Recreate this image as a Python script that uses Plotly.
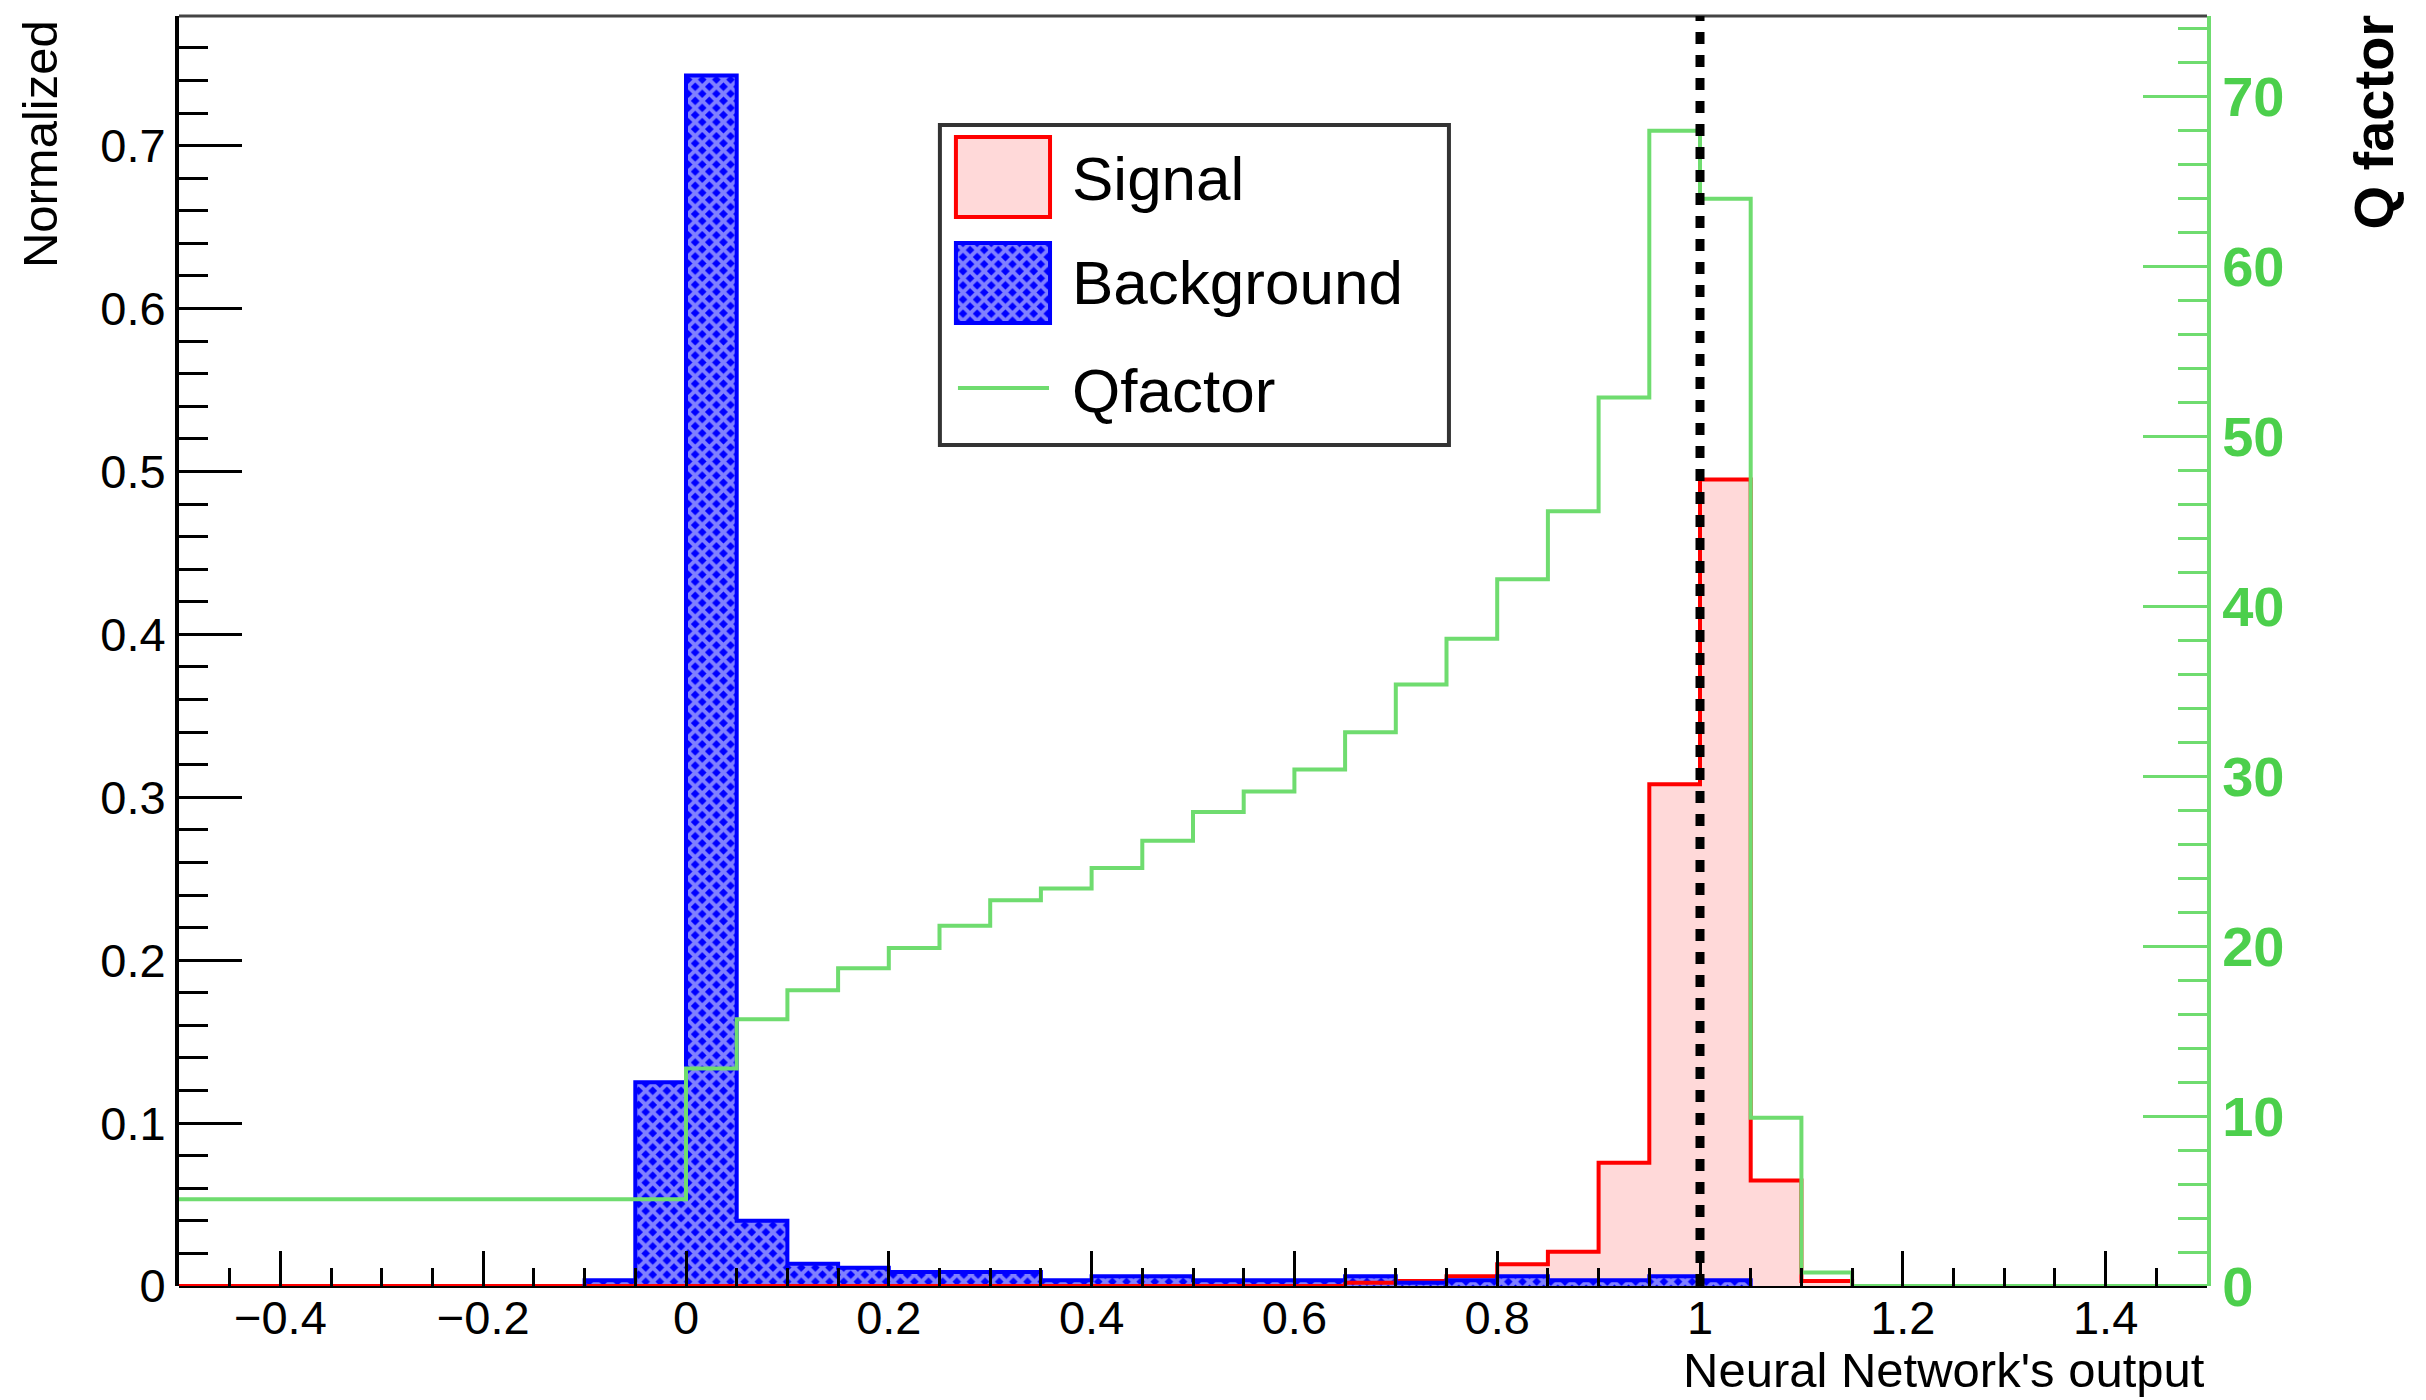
import plotly.graph_objects as go

# ---------------- data ----------------
bin_width = 0.05
# lower edges of the 40 bins (-0.5 ... 1.45)
bin_lo = [-0.50, -0.45, -0.40, -0.35, -0.30, -0.25, -0.20, -0.15, -0.10, -0.05,
          0.00, 0.05, 0.10, 0.15, 0.20, 0.25, 0.30, 0.35, 0.40, 0.45,
          0.50, 0.55, 0.60, 0.65, 0.70, 0.75, 0.80, 0.85, 0.90, 0.95,
          1.00, 1.05, 1.10, 1.15, 1.20, 1.25, 1.30, 1.35, 1.40, 1.45]

# Signal: bins -0.50 ... 1.10 (33 bins)
signal_vals = [0, 0, 0, 0, 0, 0, 0, 0, 0, 0,
               0, 0, 0, 0, 0, 0, 0, 0, 0, 0,
               0, 0, 0, 0.002, 0.003, 0.006, 0.0133, 0.021, 0.0757, 0.308,
               0.495, 0.0647, 0.003]
signal_first = 0

# Background: bins -0.10 ... 1.00 (23 bins)
background_vals = [0.0035, 0.125, 0.743, 0.040, 0.0137, 0.0112, 0.0086, 0.0086, 0.0086, 0.0035,
                   0.006, 0.006, 0.0035, 0.0035, 0.0035, 0.006, 0.002, 0.0035, 0.006, 0.0035,
                   0.0035, 0.006, 0.0035]
background_first = 8

# Q factor: all 40 bins
qfactor_vals = [5.1, 5.1, 5.1, 5.1, 5.1, 5.1, 5.1, 5.1, 5.1, 5.1,
                12.8, 15.7, 17.4, 18.7, 19.9, 21.2, 22.7, 23.4, 24.6, 26.2,
                27.9, 29.1, 30.4, 32.6, 35.4, 38.1, 41.6, 45.6, 52.3, 68.0,
                64.0, 9.9, 0.8, 0, 0, 0, 0, 0, 0, 0]
qfactor_first = 0

cut_value = 1.0

x_tick_vals = [-0.4, -0.2, 0, 0.2, 0.4, 0.6, 0.8, 1.0, 1.2, 1.4]
x_tick_text = ["\u22120.4", "\u22120.2", "0", "0.2", "0.4", "0.6", "0.8", "1", "1.2", "1.4"]
y_tick_vals = [0, 0.1, 0.2, 0.3, 0.4, 0.5, 0.6, 0.7]
y_tick_text = ["0", "0.1", "0.2", "0.3", "0.4", "0.5", "0.6", "0.7"]
y2_tick_vals = [0, 10, 20, 30, 40, 50, 60, 70]

# ---------------- styles ----------------
FONT = "Liberation Sans, Arial, Helvetica, sans-serif"
RED = "#ff0000"
PINK = "#ffd9d9"
BLUE = "#0000ff"
GREEN_LINE = "#6fdc6f"
GREEN_AX = "#4ccf4c"


def centers(first, n):
    return [bin_lo[first + i] + bin_width / 2 for i in range(n)]


def step_xy(first, vals, start_zero=True):
    xs, ys = [], []
    if start_zero:
        xs.append(bin_lo[first])
        ys.append(0)
    for i, v in enumerate(vals):
        xs.append(bin_lo[first + i])
        ys.append(v)
    end = bin_lo[first + len(vals) - 1] + bin_width
    xs += [end, end]
    ys += [vals[-1], 0]
    return xs, ys


fig = go.Figure()

# Signal fill + outline
fig.add_trace(go.Bar(x=centers(signal_first, len(signal_vals)), y=signal_vals, width=bin_width,
                     marker=dict(color=PINK, line=dict(width=0)), showlegend=False, hoverinfo="skip"))
sx, sy = step_xy(signal_first, signal_vals)
fig.add_trace(go.Scatter(x=sx, y=sy, mode="lines", line=dict(color=RED, width=4, shape="hv"),
                         showlegend=False, hoverinfo="skip"))

# Background fill + outline
bg_pattern = dict(shape="x", fillmode="overlay", fgcolor="white", bgcolor=BLUE, size=10, solidity=0.62)
fig.add_trace(go.Bar(x=centers(background_first, len(background_vals)), y=background_vals, width=bin_width,
                     marker=dict(color=BLUE, line=dict(width=0), pattern=bg_pattern),
                     showlegend=False, hoverinfo="skip"))
bx, by = step_xy(background_first, background_vals)
fig.add_trace(go.Scatter(x=bx, y=by, mode="lines", line=dict(color=BLUE, width=4, shape="hv"),
                         showlegend=False, hoverinfo="skip"))

# Q factor
qx, qy = step_xy(qfactor_first, qfactor_vals, start_zero=False)
fig.add_trace(go.Scatter(x=qx, y=qy, mode="lines", yaxis="y2",
                         line=dict(color=GREEN_LINE, width=4, shape="hv"),
                         showlegend=False, hoverinfo="skip"))

# Legend swatch for background (same pattern) on its own small axes
LEG_SW_X = [0.3831, 0.4295]
fig.add_trace(go.Bar(x=[0.5], y=[1], width=1, xaxis="x3", yaxis="y3",
                     marker=dict(color=BLUE, line=dict(width=0), pattern=bg_pattern),
                     showlegend=False, hoverinfo="skip"))

fig.update_layout(
    width=2426, height=1400,
    margin=dict(l=179, r=219, t=16, b=114),
    paper_bgcolor="white", plot_bgcolor="white",
    barmode="overlay", bargap=0,
    font=dict(family=FONT, size=47, color="black"),
    xaxis=dict(range=[-0.5, 1.5], showgrid=False, zeroline=False, showline=False,
               ticks="inside", ticklen=35, tickwidth=3, tickcolor="black",
               tickvals=x_tick_vals, ticktext=x_tick_text,
               tickfont=dict(family=FONT, size=47, color="black"),
               minor=dict(ticks="inside", ticklen=18, tickwidth=3, tickcolor="black",
                          dtick=0.05, tick0=0, showgrid=False)),
    yaxis=dict(range=[0, 0.7796], showgrid=False, zeroline=False, showline=True,
               linecolor="black", linewidth=4,
               ticks="inside", ticklen=63, tickwidth=3, tickcolor="black",
               tickvals=y_tick_vals, ticktext=y_tick_text,
               tickfont=dict(family=FONT, size=47, color="black"),
               minor=dict(ticks="inside", ticklen=29, tickwidth=3, tickcolor="black",
                          dtick=0.02, tick0=0, showgrid=False)),
    yaxis2=dict(range=[0, 74.75], overlaying="y", side="right", showgrid=False, zeroline=False,
                showline=True, linecolor=GREEN_LINE, linewidth=4,
                ticks="inside", ticklen=64, tickwidth=3, tickcolor=GREEN_LINE,
                tickvals=y2_tick_vals,
                tickfont=dict(family=FONT, size=56, color=GREEN_AX, weight="bold"),
                minor=dict(ticks="inside", ticklen=29, tickwidth=3, tickcolor=GREEN_LINE,
                           dtick=2, tick0=0, showgrid=False)),
    xaxis3=dict(domain=LEG_SW_X, range=[0, 1], visible=False, anchor="y3", fixedrange=True),
    yaxis3=dict(domain=[0.7583, 0.8213], range=[0, 1], visible=False, anchor="x3", fixedrange=True),
)

shapes = [
    # bottom frame line (below traces)
    dict(type="line", xref="paper", yref="paper", x0=0, x1=1, y0=0, y1=0,
         line=dict(color="black", width=4), layer="below"),
    # top frame line
    dict(type="line", xref="paper", yref="paper", x0=0, x1=1, y0=1, y1=1,
         line=dict(color="#444444", width=3)),
    # cut line
    dict(type="line", xref="x", yref="paper", x0=cut_value, x1=cut_value, y0=0, y1=1,
         line=dict(color="black", width=9, dash="12px,11px")),
    # legend box (outline only, so the swatch bar shows through)
    dict(type="rect", xref="paper", yref="paper", x0=0.3752, x1=0.6262, y0=0.6622, y1=0.9142,
         line=dict(color="#333333", width=4), fillcolor="rgba(0,0,0,0)", layer="above"),
    # signal swatch
    dict(type="rect", xref="paper", yref="paper", x0=LEG_SW_X[0], x1=LEG_SW_X[1], y0=0.8417, y1=0.9047,
         line=dict(color=RED, width=4), fillcolor=PINK, layer="above"),
    # background swatch outline
    dict(type="rect", xref="paper", yref="paper", x0=LEG_SW_X[0], x1=LEG_SW_X[1], y0=0.7583, y1=0.8213,
         line=dict(color=BLUE, width=4), fillcolor="rgba(0,0,0,0)", layer="above"),
    # qfactor swatch
    dict(type="line", xref="paper", yref="paper", x0=0.3841, x1=0.4290, y0=0.7071, y1=0.7071,
         line=dict(color=GREEN_LINE, width=4), layer="above"),
]
fig.update_layout(shapes=shapes)

ann = [
    dict(text="Normalized", xref="paper", yref="paper", x=-0.0685, y=0.9984, xanchor="center", yanchor="top",
         textangle=-90, showarrow=False, font=dict(family=FONT, size=49, color="black")),
    dict(text="Q factor", xref="paper", yref="paper", x=1.0819, y=1.0024, xanchor="center", yanchor="top",
         textangle=-90, showarrow=False, font=dict(family=FONT, size=56, color="black", weight="bold")),
    dict(text="Neural Network's output", xref="paper", yref="paper", x=1.0, y=-0.066, xanchor="right",
         yanchor="middle", showarrow=False, font=dict(family=FONT, size=49, color="black")),
    dict(text="Signal", xref="paper", yref="paper", x=0.4393, y=0.8724, xanchor="left", yanchor="middle",
         showarrow=False, font=dict(family=FONT, size=62, color="black")),
    dict(text="Background", xref="paper", yref="paper", x=0.4393, y=0.7898, xanchor="left", yanchor="middle",
         showarrow=False, font=dict(family=FONT, size=62, color="black")),
    dict(text="Qfactor", xref="paper", yref="paper", x=0.4393, y=0.7055, xanchor="left", yanchor="middle",
         showarrow=False, font=dict(family=FONT, size=62, color="black")),
]
fig.update_layout(annotations=ann)

fig.write_html("out.html")
